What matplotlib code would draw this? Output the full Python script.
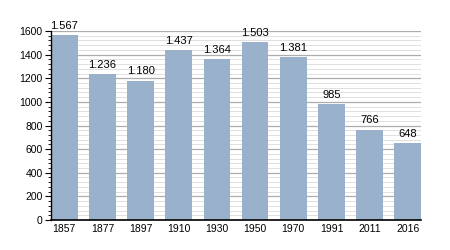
import matplotlib
matplotlib.use('Agg')
import matplotlib.pyplot as plt
import matplotlib.ticker as mticker
import numpy as np

years = ['1857', '1877', '1897', '1910', '1930', '1950', '1970', '1991', '2011', '2016']
population = [1567, 1236, 1180, 1437, 1364, 1503, 1381, 985, 766, 648]

plt.rcParams['font.family'] = ['Liberation Sans', 'DejaVu Sans']

fig = plt.figure(figsize=(4.5, 2.5), dpi=100)
ax = fig.add_axes([0.113, 0.12, 0.823, 0.756])

x = np.arange(len(years))
ax.set_axisbelow(True)
ax.yaxis.set_major_locator(mticker.MultipleLocator(200))
ax.yaxis.set_minor_locator(mticker.MultipleLocator(40))
ax.grid(True, axis='y', which='major', color='#adadad', linewidth=0.9)
ax.grid(True, axis='y', which='minor', color='#e0e0e0', linewidth=0.7)

bars = ax.bar(x, population, width=0.7, color='#9ab1cc')
for xi, v in zip(x, population):
    lbl = f'{v:,}'.replace(',', '.')
    ax.text(xi, v + 35, lbl, ha='center', va='bottom', fontsize=8)

ax.set_xlim(-0.35, len(years) - 0.65)
ax.set_ylim(0, 1600)
ax.set_xticks(x)
ax.set_xticklabels(years)
ax.tick_params(axis='x', length=0, labelsize=7.5, pad=3)
ax.tick_params(axis='y', which='major', length=4, width=0.8, labelsize=7.5, pad=2)
ax.tick_params(axis='y', which='minor', length=2, width=0.6)

for s in ['top', 'right']:
    ax.spines[s].set_visible(False)
ax.spines['left'].set_linewidth(1.0)
ax.spines['bottom'].set_linewidth(1.2)

fig.savefig('out.png', dpi=100)
